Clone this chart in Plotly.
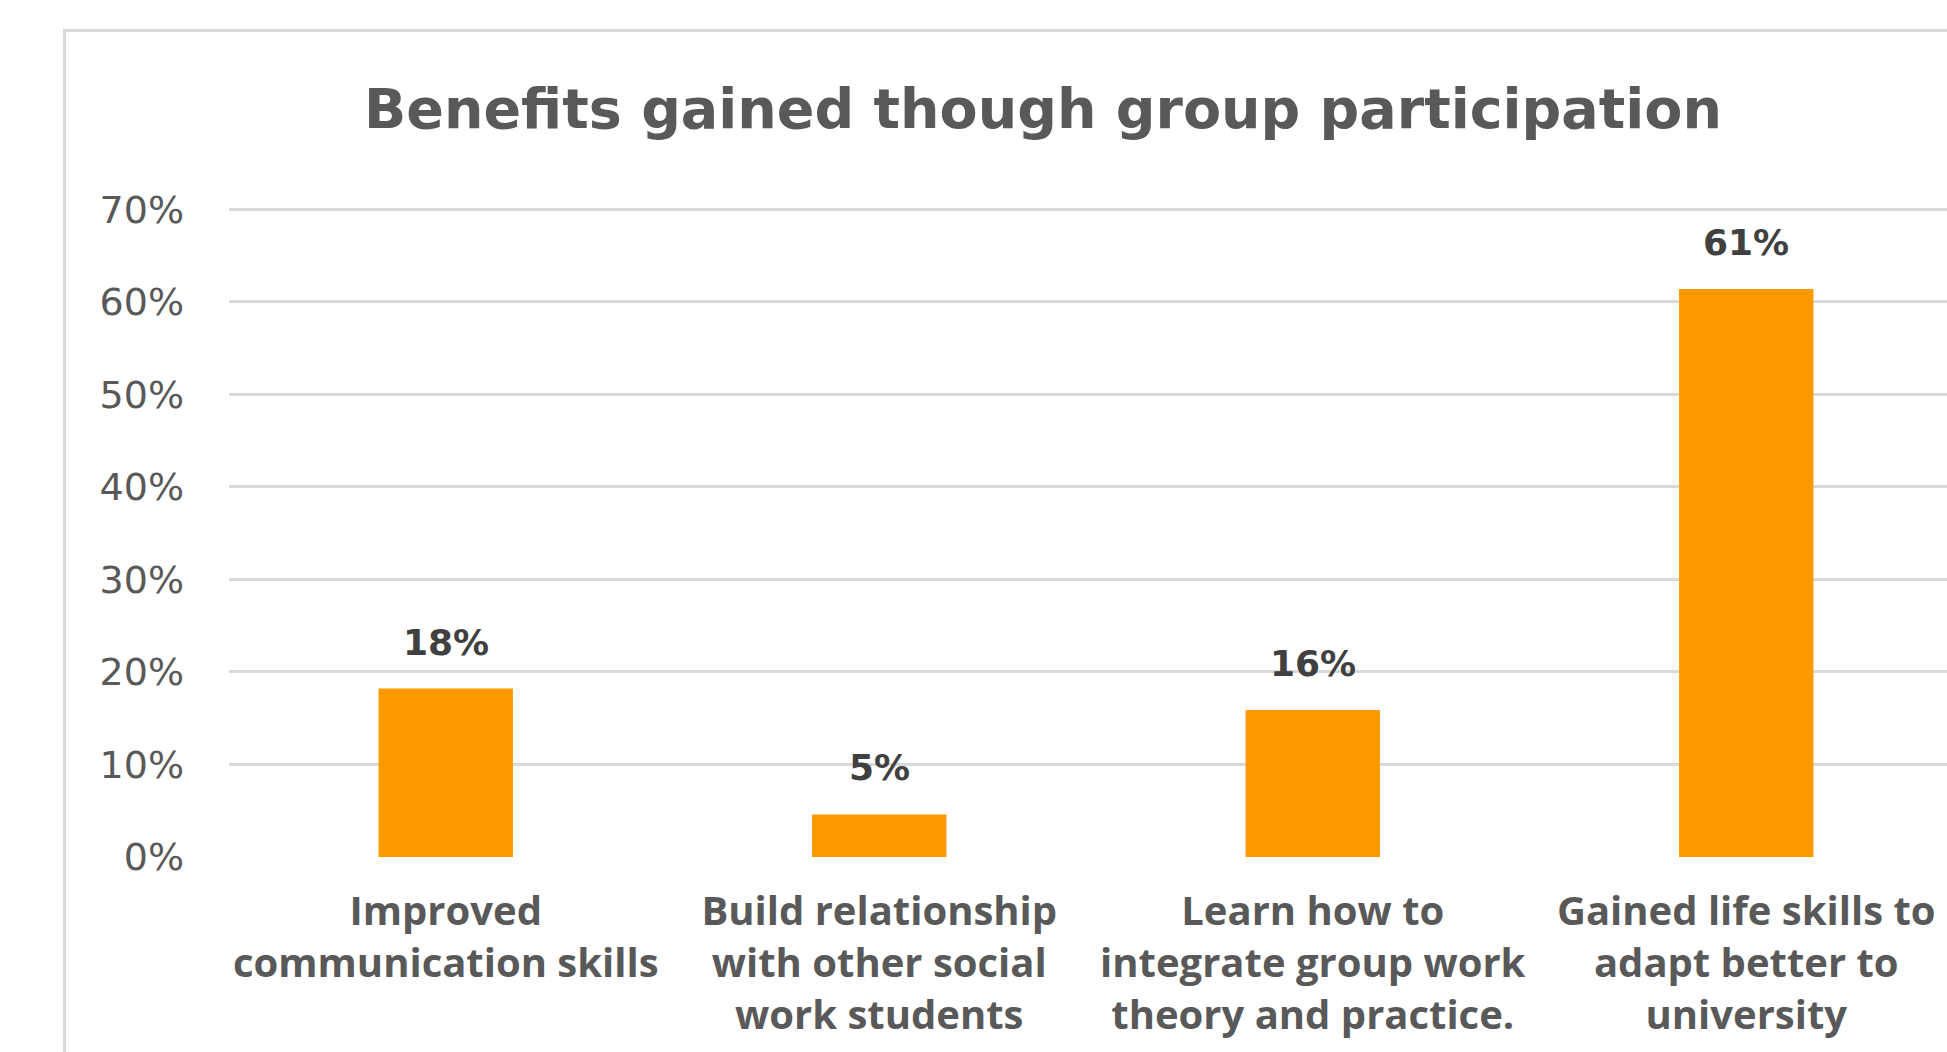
import plotly.graph_objects as go

# ---- data ----
categories = [
    "Improved<br>communication skills",
    "Build relationship<br>with other social<br>work students",
    "Learn how to<br>integrate group work<br>theory and practice.",
    "Gained life skills to<br>adapt better to<br>university",
]
values = [0.182, 0.046, 0.159, 0.614]
value_labels = ["18%", "5%", "16%", "61%"]
y_tick_values = [0.0, 0.1, 0.2, 0.3, 0.4, 0.5, 0.6, 0.7]
y_tick_labels = ["0%", "10%", "20%", "30%", "40%", "50%", "60%", "70%"]
title_text = "Benefits gained though group participation"

W, H = 1947, 1052
ML, MR, MT, MB = 229, 0, 207, 195
PW = W - ML - MR
PH = H - MT - MB
Y_MAX = 0.7025

x_idx = list(range(len(categories)))

fig = go.Figure()
fig.add_trace(go.Bar(
    x=x_idx, y=values, width=0.31,
    marker=dict(color="#FF9900", line=dict(width=0)),
    hoverinfo="skip",
))

for i, v, t in zip(x_idx, values, value_labels):
    fig.add_annotation(
        x=i, y=v, text=t, showarrow=False, xanchor="center", yanchor="bottom",
        yshift=24, font=dict(family="DejaVu Sans", size=36, color="#404040", weight="bold"),
    )

# chart-area border (Excel style)
fig.add_shape(
    type="rect", xref="paper", yref="paper",
    x0=(64.5 - ML) / PW, x1=1.2, y0=-0.5, y1=(H - MB - 30.5) / PH,
    line=dict(color="#d9d9d9", width=3), fillcolor="rgba(0,0,0,0)", layer="below",
)

fig.update_layout(
    width=W, height=H,
    margin=dict(l=ML, r=MR, t=MT, b=MB, autoexpand=False),
    paper_bgcolor="white", plot_bgcolor="white",
    showlegend=False,
    title=dict(
        text=title_text, xref="paper", x=(1043 - ML) / PW, xanchor="center",
        yref="container", y=1 - 109 / H, yanchor="middle",
        font=dict(family="DejaVu Sans", size=55.5, color="#595959", weight="bold"),
    ),
    xaxis=dict(
        range=[-0.5, 3.5 - 16 / 433.5],
        tickvals=x_idx, ticktext=categories,
        showgrid=False, zeroline=False, showline=False, ticks="",
        tickfont=dict(family="Open Sans", size=40, color="#595959", weight="bold"),
        ticklabelstandoff=27,
    ),
    yaxis=dict(
        range=[0, Y_MAX],
        tickvals=y_tick_values, ticktext=y_tick_labels,
        showgrid=True, gridcolor="#d9d9d9", gridwidth=3,
        zeroline=False, showline=False, ticks="",
        tickfont=dict(family="DejaVu Sans", size=38, color="#595959"),
        ticklabelstandoff=44,
    ),
)

fig.write_html("out.html")
